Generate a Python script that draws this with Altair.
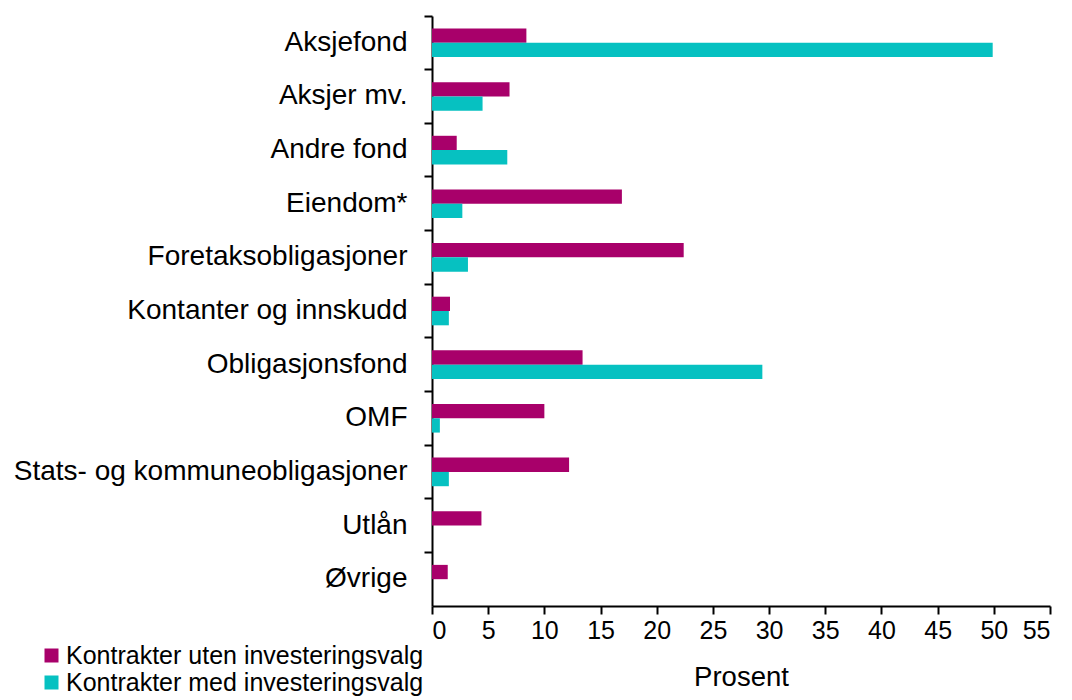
import altair as alt
import pandas as pd

categories = ["Aksjefond", "Aksjer mv.", "Andre fond", "Eiendom*", "Foretaksobligasjoner",
              "Kontanter og innskudd", "Obligasjonsfond", "OMF",
              "Stats- og kommuneobligasjoner", "Utlån", "Øvrige"]
series = ["Kontrakter uten investeringsvalg", "Kontrakter med investeringsvalg"]
uten = [8.4, 6.9, 2.2, 16.9, 22.4, 1.6, 13.4, 10.0, 12.2, 4.4, 1.4]
med = [49.9, 4.5, 6.7, 2.7, 3.2, 1.5, 29.4, 0.7, 1.5, 0.0, 0.0]
colors = ["#A8006A", "#06C1C1"]
x_ticks = list(range(0, 56, 5))

rows = []
for c, u, m in zip(categories, uten, med):
    rows.append({"kategori": c, "serie": series[0], "verdi": u})
    rows.append({"kategori": c, "serie": series[1], "verdi": m})
df = pd.DataFrame(rows)

FONT = "Liberation Sans"

chart = alt.Chart(df).mark_bar().encode(
    y=alt.Y("kategori:N", sort=categories,
            scale=alt.Scale(paddingInner=0, paddingOuter=0),
            axis=alt.Axis(title=None, bandPosition=0, tickSize=8, tickWidth=2,
                          tickColor="black", domainColor="black", domainWidth=2,
                          labelFontSize=28, labelColor="black", labelFont=FONT,
                          labelPadding=17, labelLimit=600)),
    yOffset=alt.YOffset("serie:N", sort=series,
                        scale=alt.Scale(paddingInner=0, paddingOuter=0.875)),
    x=alt.X("verdi:Q", scale=alt.Scale(domain=[0, 55], nice=False),
            axis=alt.Axis(values=x_ticks, title="Prosent", grid=False,
                          tickSize=8, tickWidth=2, tickColor="black",
                          domainColor="black", domainWidth=2,
                          labelFontSize=25, labelColor="black", labelFont=FONT,
                          labelPadding=4, titleFontSize=27.5, titleFont=FONT,
                          titleColor="black", titleFontWeight="normal",
                          titlePadding=20)),
    color=alt.Color("serie:N", sort=series,
                    scale=alt.Scale(domain=series, range=colors),
                    legend=alt.Legend(title=None, orient="none", legendX=-393,
                                      legendY=627, symbolType="square",
                                      symbolSize=196, symbolStrokeWidth=0,
                                      labelFontSize=25, labelFont=FONT,
                                      labelColor="black", rowPadding=1,
                                      labelLimit=600, symbolOffset=0,
                                      labelOffset=2)),
).properties(
    width=618, height=590,
    padding={"left": 424, "top": 8, "right": 6, "bottom": 92},
    autosize=alt.AutoSizeParams(type="none"),
).configure_view(stroke=None)

chart.save("out.html", embed_options={"renderer": "svg", "actions": False})
